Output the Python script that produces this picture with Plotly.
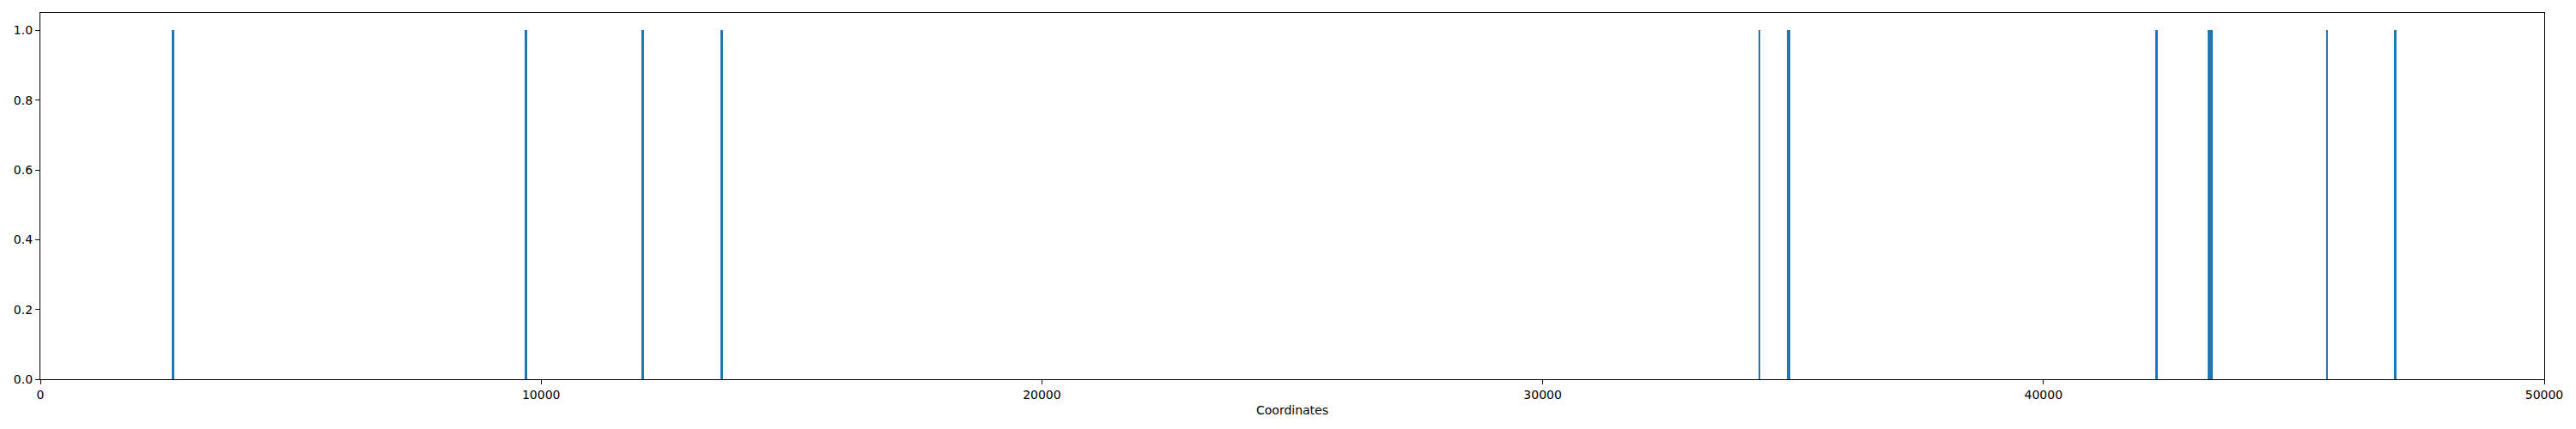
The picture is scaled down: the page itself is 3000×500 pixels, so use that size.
import plotly.graph_objects as go

# Feature intervals (coordinates)
starts = [2630, 9675, 12005, 13585, 34312, 34878, 42232, 43278, 45643, 46998]
ends   = [2682, 9730, 12060, 13640, 34350, 34945, 42287, 43385, 45682, 47052]
values = [1, 1, 1, 1, 1, 1, 1, 1, 1, 1]

x_ticks = [0, 10000, 20000, 30000, 40000, 50000]
y_ticks = [0.0, 0.2, 0.4, 0.6, 0.8, 1.0]

centers = [(s + e) / 2 for s, e in zip(starts, ends)]
widths = [e - s for s, e in zip(starts, ends)]

fig = go.Figure(
    go.Bar(
        x=centers,
        y=values,
        width=widths,
        marker=dict(color="#1f77b4", line=dict(width=0)),
        showlegend=False,
        hoverinfo="skip",
    )
)

axis_common = dict(
    showline=True,
    linecolor="black",
    linewidth=1.2,
    mirror=True,
    showgrid=False,
    zeroline=False,
    ticks="outside",
    ticklen=5,
    tickwidth=1,
    tickcolor="black",
    tickfont=dict(family="DejaVu Sans", size=14, color="black"),
)

fig.update_layout(
    width=3000,
    height=500,
    margin=dict(l=47, r=37, t=15, b=58, autoexpand=False),
    paper_bgcolor="white",
    plot_bgcolor="white",
    font=dict(family="DejaVu Sans", size=14, color="black"),
    bargap=0,
    xaxis=dict(
        range=[0, 50000],
        tickvals=x_ticks,
        ticktext=[str(v) for v in x_ticks],
        title=dict(text="Coordinates", standoff=6,
                   font=dict(family="DejaVu Sans", size=14, color="black")),
        automargin=False,
        **axis_common,
    ),
    yaxis=dict(
        range=[0, 1.05],
        tickvals=y_ticks,
        ticktext=[f"{v:.1f}" for v in y_ticks],
        automargin=False,
        **axis_common,
    ),
)

fig.write_html(
    "out.html",
    config={"displayModeBar": False, "staticPlot": False},
    post_script="document.body.style.margin='0';document.body.style.overflow='hidden';",
)
